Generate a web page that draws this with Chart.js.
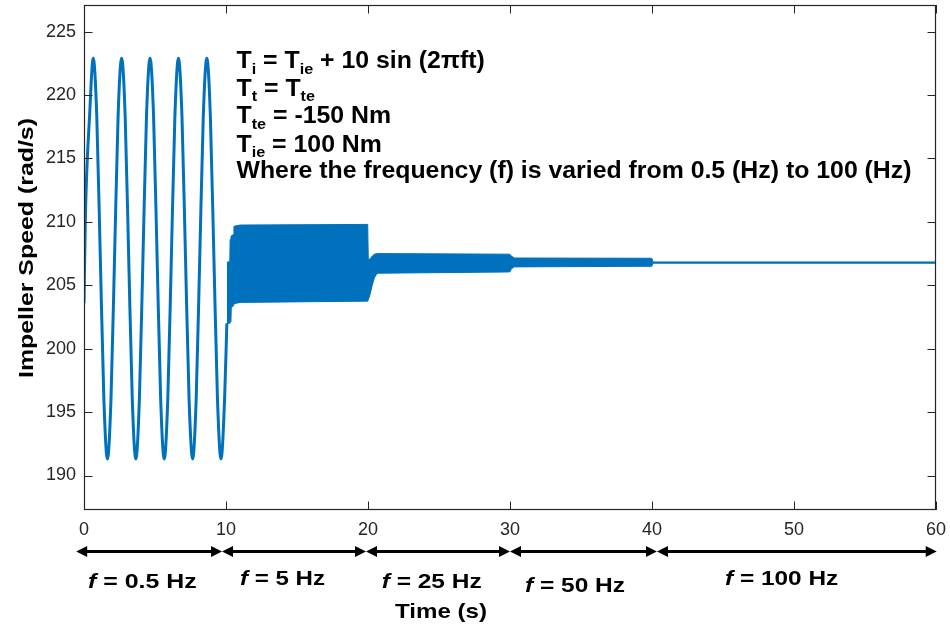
<!DOCTYPE html>
<html>
<head>
<meta charset="utf-8">
<title>Impeller speed</title>
<script src="https://cdn.jsdelivr.net/npm/chart.js@4.4.1/dist/chart.umd.min.js"></script>
<style>
  html, body { margin: 0; padding: 0; background: #fff; overflow: hidden; }
  #wrap { width: 950px; height: 632px; }
  canvas { display: block; }
</style>
</head>
<body>
<div id="wrap"><canvas id="speedChart" width="950" height="632"></canvas></div>
<script>
// axis ticks
const timeTicks = [0, 10, 20, 30, 40, 50, 60];
const speedTicks = [190, 195, 200, 205, 210, 215, 220, 225];

// 0.5 Hz part
const sineTime = [0, 0.1, 0.4, 0.65, 0.9, 1.15, 1.4, 1.65, 1.9, 2.15, 2.4, 2.65, 2.9, 3.15, 3.4, 3.65,
    3.9, 4.15, 4.4, 4.65, 4.9, 5.15, 5.4, 5.65, 5.9, 6.15, 6.4, 6.65, 6.9, 7.15, 7.4, 7.65,
    7.9, 8.15, 8.4, 8.65, 8.9, 9.15, 9.4, 9.65, 9.9, 10.06];
const sineSpeed = [203.6, 210.5, 218.5, 222.9, 218.3, 207.1, 196.0, 191.3, 196.0, 207.1, 218.3, 222.9, 218.3, 207.1, 196.0, 191.3,
    196.0, 207.1, 218.3, 222.9, 218.3, 207.1, 196.0, 191.3, 196.0, 207.1, 218.3, 222.9, 218.3, 207.1, 196.0, 191.3,
    196.0, 207.1, 218.3, 222.9, 218.3, 207.1, 196.0, 191.3, 196.0, 202.0];

// 5 Hz .. 100 Hz: too dense to resolve, so only the envelope of the trace
const bandTime  = [10.06, 10.27, 10.29, 10.35, 10.37, 10.52, 10.56, 11.0, 19.98, 20.02, 20.15, 20.3, 20.45, 20.65, 29.98, 30.1, 30.3, 39.98, 40.08, 60];
const bandUpper = [206.8, 206.9, 208.6, 208.8, 208.9, 209.0, 209.65, 209.75, 209.8, 207.0, 207.1, 207.3, 207.45, 207.5, 207.45, 207.3, 207.15, 207.13, 206.84, 206.84];
const bandLower = [202.0, 202.0, 202.1, 202.2, 203.2, 203.4, 203.55, 203.65, 203.75, 203.85, 204.3, 205.0, 205.6, 205.95, 206.05, 206.3, 206.45, 206.5, 206.74, 206.74];

// frequency steps marked under the axis (arrow ends in seconds)
const stepLabels = ['0.5 Hz', '5 Hz', '25 Hz', '50 Hz', '100 Hz'];
const stepEdges = [-0.55, 9.72, 19.86, 30, 40.35, 60.05];

const BLUE = '#0072BD';
const AXIS = '#262626';
const FAMILY = '"Liberation Sans", Arial, Helvetica, sans-serif';

function toPoints(xs, ys) {
    return xs.map((x, i) => ({ x: x, y: ys[i] }));
}

// runs: [text, style] where style is '' | 'sub' | 'italic'
function runFont(style, size) {
    if (style === 'sub') return 'bold ' + Math.round(size * 0.65) + 'px ' + FAMILY;
    if (style === 'italic') return 'italic bold ' + size + 'px ' + FAMILY;
    return 'bold ' + size + 'px ' + FAMILY;
}

function runsWidth(ctx, runs, size) {
    let w = 0;
    runs.forEach(([text, style]) => {
        ctx.font = runFont(style, size);
        w += ctx.measureText(text).width;
    });
    return w;
}

function drawRuns(ctx, runs, x, y, size, sx) {
    ctx.save();
    ctx.translate(x, y);
    ctx.scale(sx, 1);
    ctx.textAlign = 'left';
    ctx.textBaseline = 'alphabetic';
    ctx.fillStyle = '#000';
    let cx = 0;
    runs.forEach(([text, style]) => {
        ctx.font = runFont(style, size);
        ctx.fillText(text, cx, style === 'sub' ? size * 0.24 : 0);
        cx += ctx.measureText(text).width;
    });
    ctx.restore();
}

const equationLines = [
    [['T', ''], ['i', 'sub'], [' = T', ''], ['ie', 'sub'], [' + 10 sin (2\u03C0ft)', '']],
    [['T', ''], ['t', 'sub'], [' = T', ''], ['te', 'sub']],
    [['T', ''], ['te', 'sub'], [' = -150 Nm', '']],
    [['T', ''], ['ie', 'sub'], [' = 100 Nm', '']],
    [['Where the frequency (f) is varied from 0.5 (Hz) to 100 (Hz)', '']]
];

const matlabFrame = {
    id: 'matlabFrame',
    afterDraw(chart) {
        const ctx = chart.ctx;
        const area = chart.chartArea;
        const xs = chart.scales.x;
        const ys = chart.scales.y;
        const tick = 8.5;

        ctx.save();
        ctx.strokeStyle = AXIS;
        ctx.lineWidth = 1.2;
        ctx.strokeRect(area.left + 0.5, area.top + 0.5, area.right - area.left - 1, area.bottom - area.top - 1);

        ctx.lineWidth = 1;
        ctx.beginPath();
        timeTicks.forEach(v => {
            const px = Math.round(xs.getPixelForValue(v)) + 0.5;
            ctx.moveTo(px, area.bottom);
            ctx.lineTo(px, area.bottom - tick);
            ctx.moveTo(px, area.top);
            ctx.lineTo(px, area.top + tick);
        });
        speedTicks.forEach(v => {
            const py = Math.round(ys.getPixelForValue(v)) + 0.5;
            ctx.moveTo(area.left, py);
            ctx.lineTo(area.left + tick, py);
            ctx.moveTo(area.right, py);
            ctx.lineTo(area.right - tick, py);
        });
        ctx.stroke();

        // equation block
        const size = 23;
        const sx = 675 / runsWidth(ctx, equationLines[4], size);
        const baselines = [68.3, 95.5, 123.3, 151.7, 178.3];
        equationLines.forEach((runs, i) => drawRuns(ctx, runs, 236.5, baselines[i], size, sx));

        // arrows for each frequency step
        const ay = 551.5;
        const head = 11;
        const half = 5.5;
        ctx.strokeStyle = '#000';
        ctx.fillStyle = '#000';
        ctx.lineWidth = 3;
        for (let i = 0; i < stepLabels.length; i++) {
            const x1 = xs.getPixelForValue(stepEdges[i]);
            const x2 = xs.getPixelForValue(stepEdges[i + 1]);
            ctx.beginPath();
            ctx.moveTo(x1 + head - 1, ay);
            ctx.lineTo(x2 - head + 1, ay);
            ctx.stroke();
            ctx.beginPath();
            ctx.moveTo(x1, ay);
            ctx.lineTo(x1 + head, ay - half);
            ctx.lineTo(x1 + head, ay + half);
            ctx.closePath();
            ctx.moveTo(x2, ay);
            ctx.lineTo(x2 - head, ay - half);
            ctx.lineTo(x2 - head, ay + half);
            ctx.closePath();
            ctx.fill();
        }

        // step labels
        const labelLeft = [88, 240, 381.7, 525, 725];
        const labelWidth = [108.7, 85, 100, 100, 113.3];
        const labelBase = [588.3, 585.3, 588.3, 592.3, 585.3];
        stepLabels.forEach((txt, i) => {
            const runs = [['f', 'italic'], [' = ' + txt, '']];
            const w = runsWidth(ctx, runs, 21);
            drawRuns(ctx, runs, labelLeft[i], labelBase[i], 21, labelWidth[i] / w);
        });

        // axis titles
        const xt = [['Time (s)', '']];
        drawRuns(ctx, xt, 395, 618.3, 21, 92 / runsWidth(ctx, xt, 21));

        const yt = [['Impeller Speed (rad/s)', '']];
        const yw = runsWidth(ctx, yt, 21);
        ctx.save();
        ctx.translate(33, 248);
        ctx.rotate(-Math.PI / 2);
        drawRuns(ctx, yt, -130, 0, 21, 260 / yw);
        ctx.restore();

        ctx.restore();
    }
};

const tickFont = { family: FAMILY, size: 18 };

new Chart(document.getElementById('speedChart'), {
    type: 'line',
    data: {
        datasets: [
            {
                label: '0.5 Hz',
                data: toPoints(sineTime, sineSpeed),
                borderColor: BLUE,
                borderWidth: 3,
                pointRadius: 0,
                cubicInterpolationMode: 'monotone',
                fill: false
            },
            {
                label: 'upper',
                data: toPoints(bandTime, bandUpper),
                borderColor: BLUE,
                backgroundColor: BLUE,
                borderWidth: 1,
                pointRadius: 0,
                fill: '+1'
            },
            {
                label: 'lower',
                data: toPoints(bandTime, bandLower),
                borderColor: BLUE,
                borderWidth: 1,
                pointRadius: 0,
                fill: false
            }
        ]
    },
    options: {
        responsive: false,
        animation: false,
        devicePixelRatio: 1,
        layout: { padding: { top: 5, right: 14, left: 0, bottom: 0 } },
        plugins: {
            legend: { display: false },
            tooltip: { enabled: false }
        },
        scales: {
            x: {
                type: 'linear',
                min: 0,
                max: 60,
                grid: { display: false, drawTicks: false },
                border: { display: false },
                ticks: { padding: 9, font: tickFont, color: AXIS, maxRotation: 0 },
                afterBuildTicks: s => { s.ticks = timeTicks.map(v => ({ value: v })); },
                afterFit: s => {
                    s.height = 122;
                    s.paddingLeft = 0;
                    s.paddingRight = 0;
                }
            },
            y: {
                type: 'linear',
                min: 187.28,
                max: 227.1,
                grid: { display: false, drawTicks: false },
                border: { display: false },
                ticks: { padding: 8, font: tickFont, color: AXIS },
                afterBuildTicks: s => { s.ticks = speedTicks.map(v => ({ value: v })); },
                afterFit: s => {
                    s.width = 84;
                    s.paddingTop = 0;
                    s.paddingBottom = 0;
                }
            }
        }
    },
    plugins: [matlabFrame]
});
</script>
</body>
</html>
